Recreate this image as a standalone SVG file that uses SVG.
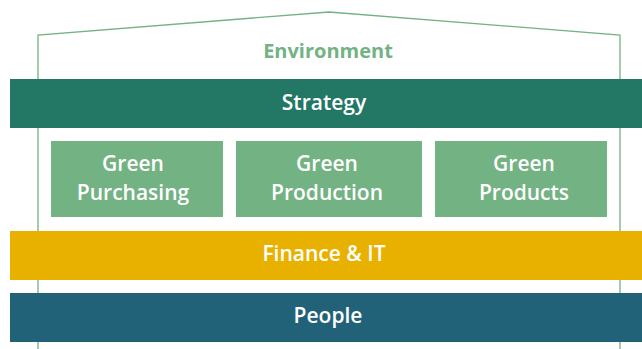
<svg xmlns="http://www.w3.org/2000/svg" width="642" height="349" viewBox="0 0 642 349">
<style>
.t{font-family:"Open Sans","Liberation Sans",sans-serif;font-size:21px;font-weight:600;fill:#ffffff;text-anchor:middle}
.env{fill:#73b283;font-weight:700;font-size:20px}
.box{fill:#73b283}
</style>
<rect width="642" height="349" fill="#ffffff"/>
<g id="house">
<polyline points="38,349 38,35 329,12 620,35 620,349" fill="none" stroke="#73b283" stroke-width="1.3"/>
</g>
<g id="environment"><text class="t env" x="328" y="58">Environment</text></g>
<g id="strategy"><rect x="10" y="79" width="632" height="49" fill="#237765"/><text class="t" x="324" y="110">Strategy</text></g>
<g id="green-purchasing"><rect class="box" x="51" y="141" width="172" height="76"/><text class="t" x="133" y="171">Green</text><text class="t" x="133" y="200">Purchasing</text></g>
<g id="green-production"><rect class="box" x="236" y="141" width="186" height="76"/><text class="t" x="327" y="171">Green</text><text class="t" x="327" y="200">Production</text></g>
<g id="green-products"><rect class="box" x="435" y="141" width="172" height="76"/><text class="t" x="524" y="171">Green</text><text class="t" x="524" y="200">Products</text></g>
<g id="finance"><rect x="10" y="231" width="632" height="49" fill="#e8b100"/><text class="t" x="324" y="261">Finance &amp; IT</text></g>
<g id="people"><rect x="10" y="293" width="632" height="49" fill="#216278"/><text class="t" x="328" y="323">People</text></g>
<g id="connectors"/>
</svg>
